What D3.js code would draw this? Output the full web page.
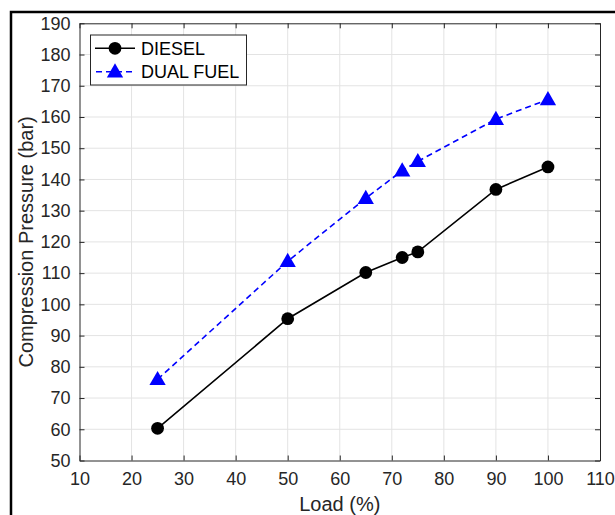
<!DOCTYPE html>
<html>
<head>
<meta charset="utf-8">
<script src="https://cdn.jsdelivr.net/npm/d3@7"></script>
<style>
  html, body { margin: 0; padding: 0; background: #fff; }
  svg { display: block; }
  text { font-family: "Liberation Sans", Arial, Helvetica, sans-serif; }
</style>
</head>
<body>
<svg id="chart" width="615" height="515"></svg>
<script>
// Engine load (%) at each test point
const loads = [25, 50, 65, 72, 75, 90, 100];
// Peak compression pressure (bar) for each fuel mode
const diesel = [60.3, 95.4, 110.2, 115.0, 116.8, 136.8, 144.0];
const dualFuel = [76.0, 113.8, 134.0, 142.8, 145.8, 159.3, 165.6];
// Axis ticks
const xTicks = [10, 20, 30, 40, 50, 60, 70, 80, 90, 100, 110];
const yTicks = [50, 60, 70, 80, 90, 100, 110, 120, 130, 140, 150, 160, 170, 180, 190];
const seriesNames = ["DIESEL", "DUAL FUEL"];

const svg = d3.select("#chart");
const W = 615, H = 515;
const plot = { left: 79.5, right: 600, top: 23.3, bottom: 460.5 };
const axisColor = "#262626";

// Outer figure frame
svg.append("rect")
  .attr("x", 11).attr("y", 12)
  .attr("width", W + 20).attr("height", H + 20)
  .attr("fill", "none").attr("stroke", "#000").attr("stroke-width", 2.5);

const x = d3.scaleLinear().domain([10, 110]).range([plot.left, plot.right]);
const y = d3.scaleLinear().domain([50, 190]).range([plot.bottom, plot.top]);

// Grid
const grid = svg.append("g").attr("stroke", "#e3e3e3").attr("stroke-width", 1);
grid.selectAll("line.gx").data(xTicks.slice(1, -1)).join("line")
  .attr("x1", d => x(d)).attr("x2", d => x(d))
  .attr("y1", plot.top).attr("y2", plot.bottom);
grid.selectAll("line.gy").data(yTicks.slice(1, -1)).join("line")
  .attr("y1", d => y(d)).attr("y2", d => y(d))
  .attr("x1", plot.left).attr("x2", plot.right);

// Axes with inward ticks on all four sides
const tickLen = 5;
const fontSize = "18px";
const xAxisB = d3.axisBottom(x).tickValues(xTicks).tickSizeInner(-tickLen).tickSizeOuter(0).tickPadding(12);
const xAxisT = d3.axisTop(x).tickValues(xTicks).tickSizeInner(-tickLen).tickSizeOuter(0).tickFormat("");
const yAxisL = d3.axisLeft(y).tickValues(yTicks).tickSizeInner(-tickLen).tickSizeOuter(0).tickPadding(9);
const yAxisR = d3.axisRight(y).tickValues(yTicks).tickSizeInner(-tickLen).tickSizeOuter(0).tickFormat("");

function styleAxis(g) {
  g.select(".domain").attr("stroke", axisColor).attr("stroke-width", 1);
  g.selectAll(".tick line").attr("stroke", axisColor);
  g.selectAll(".tick text").attr("fill", axisColor).style("font-size", fontSize)
    .style("font-family", '"Liberation Sans", Arial, sans-serif');
}
svg.append("g").attr("transform", `translate(0,${plot.bottom})`).call(xAxisB).call(styleAxis);
svg.append("g").attr("transform", `translate(0,${plot.top})`).call(xAxisT).call(styleAxis);
svg.append("g").attr("transform", `translate(${plot.left},0)`).call(yAxisL).call(styleAxis);
svg.append("g").attr("transform", `translate(${plot.right},0)`).call(yAxisR).call(styleAxis);

// Axis titles
svg.append("text")
  .attr("x", (plot.left + plot.right) / 2).attr("y", 511)
  .attr("text-anchor", "middle").attr("fill", axisColor)
  .style("font-size", "20px").text("Load (%)");
svg.append("text")
  .attr("transform", `translate(33,${(plot.top + plot.bottom) / 2}) rotate(-90)`)
  .attr("text-anchor", "middle").attr("fill", axisColor)
  .style("font-size", "20px").text("Compression Pressure (bar)");

// Series
const line = d3.line().x(d => x(d[0])).y(d => y(d[1]));
const dieselPts = loads.map((l, i) => [l, diesel[i]]);
const dualPts = loads.map((l, i) => [l, dualFuel[i]]);

svg.append("path").datum(dualPts).attr("d", line)
  .attr("fill", "none").attr("stroke", "#0000ff").attr("stroke-width", 1.6)
  .attr("stroke-dasharray", "6,4");
svg.append("path").datum(dieselPts).attr("d", line)
  .attr("fill", "none").attr("stroke", "#000").attr("stroke-width", 1.6);

const tri = d3.symbol().type(d3.symbolTriangle).size(115);
svg.selectAll("path.tri").data(dualPts).join("path")
  .attr("class", "tri")
  .attr("transform", d => `translate(${x(d[0])},${y(d[1]) + 1})`)
  .attr("d", tri).attr("fill", "#0000ff");
svg.selectAll("circle.dot").data(dieselPts).join("circle")
  .attr("class", "dot")
  .attr("cx", d => x(d[0])).attr("cy", d => y(d[1]))
  .attr("r", 6.4).attr("fill", "#000");

// Legend
const lg = svg.append("g");
lg.append("rect").attr("x", 90.5).attr("y", 35).attr("width", 156).attr("height", 50)
  .attr("fill", "#fff").attr("stroke", axisColor).attr("stroke-width", 1);
const rows = [
  { name: seriesNames[0], y: 48.3 },
  { name: seriesNames[1], y: 71.7 }
];
lg.append("line").attr("x1", 95).attr("x2", 135).attr("y1", rows[0].y).attr("y2", rows[0].y)
  .attr("stroke", "#000").attr("stroke-width", 1.6);
lg.append("circle").attr("cx", 115).attr("cy", rows[0].y).attr("r", 6.4).attr("fill", "#000");
lg.append("line").attr("x1", 95).attr("x2", 135).attr("y1", rows[1].y).attr("y2", rows[1].y)
  .attr("stroke", "#0000ff").attr("stroke-width", 1.6).attr("stroke-dasharray", "6,4")
  .attr("stroke-dashoffset", -1);
lg.append("path").attr("transform", `translate(115,${rows[1].y + 1})`).attr("d", tri).attr("fill", "#0000ff");
lg.selectAll("text").data(rows).join("text")
  .attr("x", 141).attr("y", d => d.y + 6.5)
  .attr("fill", "#000").style("font-size", "18px").text(d => d.name);
</script>
</body>
</html>
